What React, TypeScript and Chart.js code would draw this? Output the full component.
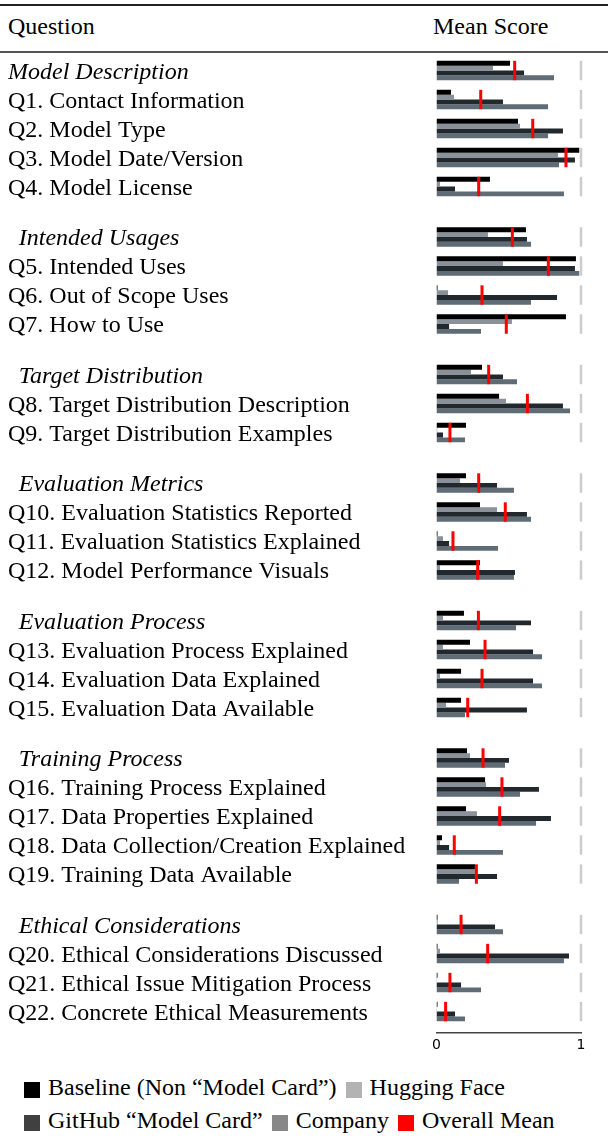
import React, { useEffect, useRef } from 'react';
import { Chart, registerables } from 'chart.js';

Chart.register(...registerables);

// Row labels (category headers are italic; the source renders a leading space before most headers)
const rowLabels: string[] = [
  'Model Description',
  'Q1. Contact Information',
  'Q2. Model Type',
  'Q3. Model Date/Version',
  'Q4. Model License',
  ' \u2009Intended Usages',
  'Q5. Intended Uses',
  'Q6. Out of Scope Uses',
  'Q7. How to Use',
  ' \u2009Target Distribution',
  'Q8. Target Distribution Description',
  'Q9. Target Distribution Examples',
  ' \u2009Evaluation Metrics',
  'Q10. Evaluation Statistics Reported',
  'Q11. Evaluation Statistics Explained',
  'Q12. Model Performance Visuals',
  ' \u2009Evaluation Process',
  'Q13. Evaluation Process Explained',
  'Q14. Evaluation Data Explained',
  'Q15. Evaluation Data Available',
  ' \u2009Training Process',
  'Q16. Training Process Explained',
  'Q17. Data Properties Explained',
  'Q18. Data Collection/Creation Explained',
  'Q19. Training Data Available',
  ' \u2009Ethical Considerations',
  'Q20. Ethical Considerations Discussed',
  'Q21. Ethical Issue Mitigation Process',
  'Q22. Concrete Ethical Measurements',
];

const baseline: number[] = [
  0.509, 0.100, 0.564, 0.988, 0.370,
  0.619, 0.965, 0.007, 0.896,
  0.315, 0.433, 0.204,
  0.204, 0.301, 0.007, 0.301,
  0.190, 0.232, 0.170, 0.170,
  0.211, 0.336, 0.204, 0.038, 0.266,
  0.007, 0.007, 0.007, 0.007,
];

const huggingFace: number[] = [
  0.391, 0.121, 0.578, 0.841, 0.024,
  0.356, 0.460, 0.080, 0.522,
  0.239, 0.481, 0.005,
  0.163, 0.419, 0.045, 0.024,
  0.045, 0.045, 0.024, 0.066,
  0.232, 0.343, 0.280, 0.024, 0.266,
  0.008, 0.024, 0.003, 0.003,
];

const github: number[] = [
  0.606, 0.460, 0.875, 0.958, 0.128,
  0.626, 0.958, 0.834, 0.087,
  0.460, 0.875, 0.045,
  0.419, 0.626, 0.087, 0.543,
  0.654, 0.668, 0.668, 0.626,
  0.502, 0.709, 0.792, 0.087, 0.419,
  0.405, 0.917, 0.170, 0.128,
];

const company: number[] = [
  0.813, 0.772, 0.772, 0.848, 0.882,
  0.654, 0.988, 0.654, 0.308,
  0.557, 0.924, 0.197,
  0.536, 0.654, 0.426, 0.536,
  0.550, 0.730, 0.730, 0.197,
  0.474, 0.578, 0.689, 0.460, 0.156,
  0.460, 0.882, 0.308, 0.197,
];

const overallMean: number[] = [
  0.541, 0.306, 0.666, 0.896, 0.292,
  0.525, 0.774, 0.315, 0.483,
  0.361, 0.629, 0.093,
  0.292, 0.476, 0.114, 0.285,
  0.290, 0.336, 0.315, 0.216,
  0.322, 0.453, 0.437, 0.123, 0.276,
  0.170, 0.354, 0.093, 0.063,
];

const maxScore = 1;
const xTickValues: number[] = [0, 1];
const xTickLabels: string[] = ['0', '1'];

const seriesNames = ['Baseline (Non “Model Card”)', 'Hugging Face', 'GitHub “Model Card”', 'Company'];
const barColors = ['#000000', '#8a9199', '#21292f', '#5f6b75'];
const legendColors = ['#000000', '#b3b3b3', '#404040', '#888888', '#ff0000'];
const legendLines: string[][] = [
  ['Baseline (Non “Model Card”)', 'Hugging Face'],
  ['GitHub “Model Card”', 'Company', 'Overall Mean'],
];
const legendNames = [...seriesNames, 'Overall Mean'];

const GROUP_GAP = 0.74;
const isCategory = rowLabels.map((l) => !l.trim().startsWith('Q'));
const positions: number[] = (() => {
  let y = -1;
  return rowLabels.map((_, i) => {
    y += 1 + (i > 0 && isCategory[i] ? GROUP_GAP : 0);
    return y;
  });
})();
const lastPos = positions[positions.length - 1];

const SERIF = '"Liberation Serif", "DejaVu Serif", serif';

function ChartCanvas() {
  const ref = useRef<HTMLCanvasElement | null>(null);
  useEffect(() => {
    if (!ref.current) return;
    const series = [baseline, huggingFace, github, company];
    const barSets = series.map((vals, si) => ({
      type: 'bar' as const,
      label: seriesNames[si],
      data: vals.map((v, i) => ({ x: v, y: positions[i] })),
      backgroundColor: barColors[si],
      borderWidth: 0,
      categoryPercentage: 0.67,
      barPercentage: 1.0,
      order: 0,
    }));
    const chart = new Chart(ref.current, {
      type: 'bar',
      data: {
        datasets: [
          ...barSets,
          {
            type: 'scatter' as const,
            label: 'Overall Mean',
            data: overallMean.map((v, i) => ({ x: v, y: positions[i] })),
            pointStyle: 'line',
            rotation: 90,
            radius: 9.7,
            borderWidth: 3,
            borderColor: '#ff0000',
            backgroundColor: '#ff0000',
            clip: false,
            order: -2,
          } as any,
          {
            type: 'scatter' as const,
            label: 'Max',
            data: positions.map((p) => ({ x: maxScore, y: p })),
            pointStyle: 'line',
            rotation: 90,
            radius: 9.7,
            borderWidth: 2.5,
            borderColor: '#cccccc',
            backgroundColor: '#cccccc',
            clip: false,
            order: -1,
          } as any,
        ],
      },
      options: {
        indexAxis: 'y',
        animation: false,
        responsive: false,
        events: [],
        layout: { autoPadding: false, padding: { left: 8, right: 27, top: 4, bottom: 0 } },
        plugins: { legend: { display: false }, tooltip: { enabled: false } },
        scales: {
          x: {
            type: 'linear',
            position: 'bottom',
            min: 0,
            max: 1,
            offset: false,
            grid: { display: false, drawTicks: false },
            border: { display: true, color: '#444444', width: 1.5 },
            afterBuildTicks: (s: any) => {
              s.ticks = xTickValues.map((v) => ({ value: v }));
            },
            afterFit: (s: any) => {
              s.height = 25;
              s.paddingLeft = 0;
              s.paddingRight = 0;
            },
            ticks: {
              padding: 4,
              color: '#000000',
              font: { family: '"DejaVu Sans", sans-serif', size: 14 },
              callback: (_v: any, i: number) => xTickLabels[i],
            },
          },
          y: {
            type: 'linear',
            position: 'left',
            reverse: true,
            min: -0.5,
            max: lastPos + GROUP_GAP,
            bounds: 'data',
            offset: false,
            grid: { display: false, drawTicks: false, offset: false },
            border: { display: false },
            afterBuildTicks: (s: any) => {
              s.ticks = positions.map((v) => ({ value: v }));
            },
            afterFit: (s: any) => {
              s.width = 428.5;
              s.paddingTop = 0;
              s.paddingBottom = 0;
            },
            ticks: {
              autoSkip: false,
              crossAlign: 'far',
              padding: 0,
              labelOffset: 2,
              color: '#000000',
              font: (ctx: any) => ({
                family: SERIF,
                size: 24,
                style: isCategory[ctx.index] ? 'italic' : 'normal',
              }),
              callback: (_v: any, i: number) => rowLabels[i],
            },
          },
        },
      } as any,
    });
    return () => chart.destroy();
  }, []);
  return <canvas ref={ref} width={608} height={1006} style={{ display: 'block', width: 608, height: 1006 }} />;
}

export default function App() {
  const textStyle: React.CSSProperties = {
    position: 'absolute',
    fontFamily: SERIF,
    fontSize: 24,
    lineHeight: '24px',
    color: '#000',
    whiteSpace: 'nowrap',
  };
  return (
    <div style={{ position: 'absolute', left: 0, top: 0, width: 608, height: 1139, background: '#fff', overflow: 'hidden' }}>
      <div style={{ position: 'absolute', left: 0, top: 4, width: 608, height: 2, background: '#222' }} />
      <div style={{ ...textStyle, left: 8, top: 14 }}>Question</div>
      <div style={{ ...textStyle, left: 433, top: 14 }}>Mean Score</div>
      <div style={{ position: 'absolute', left: 0, top: 51, width: 608, height: 2, background: '#555' }} />
      <div style={{ position: 'absolute', left: 0, top: 52 }}>
        <ChartCanvas />
      </div>
      {legendLines.map((line, li) => (
        <div
          key={li}
          style={{ ...textStyle, left: 24, top: 1071 + li * 33, lineHeight: '33px' }}
        >
          {line.map((name) => {
            const idx = legendNames.indexOf(name);
            return (
              <span key={name} style={{ marginRight: 9 }}>
                <span
                  style={{
                    display: 'inline-block',
                    width: 16,
                    height: 16,
                    background: legendColors[idx],
                    verticalAlign: '-3px',
                    marginRight: 8,
                  }}
                />
                {name}
              </span>
            );
          })}
        </div>
      ))}
    </div>
  );
}
